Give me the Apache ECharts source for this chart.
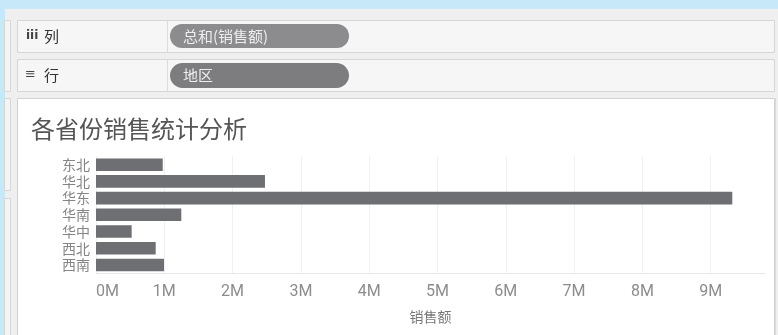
<!DOCTYPE html>
<html>
<head>
<meta charset="utf-8">
<title>各省份销售统计分析</title>
<script src="https://cdn.jsdelivr.net/npm/echarts@6/dist/echarts.min.js"></script>
<style>
  html, body { margin: 0; padding: 0; background: #efefef; }
  #chart { width: 778px; height: 335px; }
</style>
</head>
<body>
<div id="chart"></div>
<script>
// Regions (rows shelf) and their summed sales (columns shelf)
const regions = ['东北', '华北', '华东', '华南', '华中', '西北', '西南'];
const sales = [977000, 2474000, 9316000, 1249000, 522000, 874000, 996000];

// Shelf and chart texts
const columnShelfLabel = '列';
const rowShelfLabel = '行';
const columnPill = '总和(销售额)';
const rowPill = '地区';
const chartTitle = '各省份销售统计分析';
const measureName = '销售额';

const CJK = '"Noto Sans CJK SC", "Noto Sans", sans-serif';
const chart = echarts.init(document.getElementById('chart'), null, { renderer: 'canvas' });

// Workspace chrome: window edges, shelves, pills and the view card
const chrome = [
  { type: 'rect', shape: { x: 0, y: 0, width: 778, height: 335 }, style: { fill: '#efefef' } },
  { type: 'rect', shape: { x: 0, y: 0, width: 778, height: 9 }, style: { fill: '#c6e8f8' } },
  { type: 'rect', shape: { x: 0, y: 0, width: 5, height: 335 }, style: { fill: '#c6e8f8' } },
  // left side cards
  { type: 'rect', shape: { x: 4.5, y: 20.5, width: 6, height: 71 }, style: { fill: '#f4f4f4', stroke: '#d6d6d6', lineWidth: 1 } },
  { type: 'rect', shape: { x: 4.5, y: 98.5, width: 6, height: 92 }, style: { fill: '#f4f4f4', stroke: '#d6d6d6', lineWidth: 1 } },
  { type: 'rect', shape: { x: 4.5, y: 198.5, width: 6, height: 150 }, style: { fill: '#f4f4f4', stroke: '#d6d6d6', lineWidth: 1 } },
  // columns shelf
  { type: 'rect', shape: { x: 17.5, y: 20.5, width: 757, height: 32 }, style: { fill: '#f6f6f6', stroke: '#d6d6d6', lineWidth: 1 } },
  { type: 'line', shape: { x1: 167.5, y1: 21, x2: 167.5, y2: 52 }, style: { stroke: '#dcdcdc', lineWidth: 1 } },
  { type: 'text', x: 26, y: 36, style: { text: 'iii', font: 'bold 12px "DejaVu Sans", sans-serif', fill: '#444', verticalAlign: 'middle' } },
  { type: 'text', x: 44, y: 36, style: { text: columnShelfLabel, font: '15px ' + CJK, fill: '#333', verticalAlign: 'middle' } },
  { type: 'rect', shape: { x: 170, y: 24, width: 179, height: 24, r: 12 }, style: { fill: '#8c8c8f' } },
  { type: 'text', x: 183, y: 36, style: { text: columnPill, font: '15px ' + CJK, fill: '#eeeeee', verticalAlign: 'middle' } },
  // rows shelf
  { type: 'rect', shape: { x: 17.5, y: 59.5, width: 757, height: 32 }, style: { fill: '#f6f6f6', stroke: '#d6d6d6', lineWidth: 1 } },
  { type: 'line', shape: { x1: 167.5, y1: 60, x2: 167.5, y2: 91 }, style: { stroke: '#dcdcdc', lineWidth: 1 } },
  { type: 'text', x: 25, y: 75, style: { text: '≡', font: '13px "DejaVu Sans", sans-serif', fill: '#444', verticalAlign: 'middle' } },
  { type: 'text', x: 44, y: 75, style: { text: rowShelfLabel, font: '15px ' + CJK, fill: '#333', verticalAlign: 'middle' } },
  { type: 'rect', shape: { x: 170, y: 63, width: 179, height: 25, r: 12.5 }, style: { fill: '#7d7d80' } },
  { type: 'text', x: 183, y: 75.5, style: { text: rowPill, font: '15px ' + CJK, fill: '#eeeeee', verticalAlign: 'middle' } },
  // view card
  { type: 'rect', shape: { x: 17.5, y: 98.5, width: 757, height: 250 }, style: { fill: '#ffffff', stroke: '#d2d2d2', lineWidth: 1 } },
  { type: 'line', shape: { x1: 775.5, y1: 98, x2: 775.5, y2: 335 }, style: { stroke: '#dadada', lineWidth: 1 } }
];

chart.setOption({
  animation: false,
  backgroundColor: '#efefef',
  graphic: { elements: chrome.map(function (e) { return Object.assign({ silent: true, z: -10 }, e); }) },
  title: {
    text: chartTitle,
    left: 26,
    top: 112,
    textStyle: { fontFamily: CJK, fontSize: 24, fontWeight: 'normal', color: '#555555' }
  },
  grid: { left: 96, right: 13, top: 156.3, bottom: 61.6, containLabel: false },
  xAxis: {
    type: 'value',
    min: 0,
    max: 9795000,
    interval: 1000000,
    name: measureName,
    nameLocation: 'middle',
    nameGap: 36,
    nameTextStyle: { fontFamily: CJK, fontSize: 14, color: '#777777' },
    axisLine: { show: true, lineStyle: { color: '#e8e8e8', width: 1 } },
    axisTick: { show: false },
    axisLabel: {
      margin: 11,
      fontFamily: 'Roboto, sans-serif',
      fontSize: 16,
      color: '#8c8c8c',
      alignMinLabel: 'left',
      showMaxLabel: false,
      formatter: function (v) {
        return v % 1000000 === 0 ? (v / 1000000) + 'M' : '';
      }
    },
    splitLine: { show: true, showMaxLine: false, lineStyle: { color: '#f0f0f0', width: 1 } }
  },
  yAxis: {
    type: 'category',
    data: regions,
    inverse: true,
    axisLine: { show: false },
    axisTick: { show: false },
    axisLabel: { interval: 0, margin: 6, fontFamily: CJK, fontSize: 14, lineHeight: 16, color: '#858585' },
    splitLine: { show: false }
  },
  series: [{
    type: 'bar',
    data: sales,
    barCategoryGap: '25%',
    itemStyle: { color: '#6e6f73' },
    silent: true
  }]
});
</script>
</body>
</html>
